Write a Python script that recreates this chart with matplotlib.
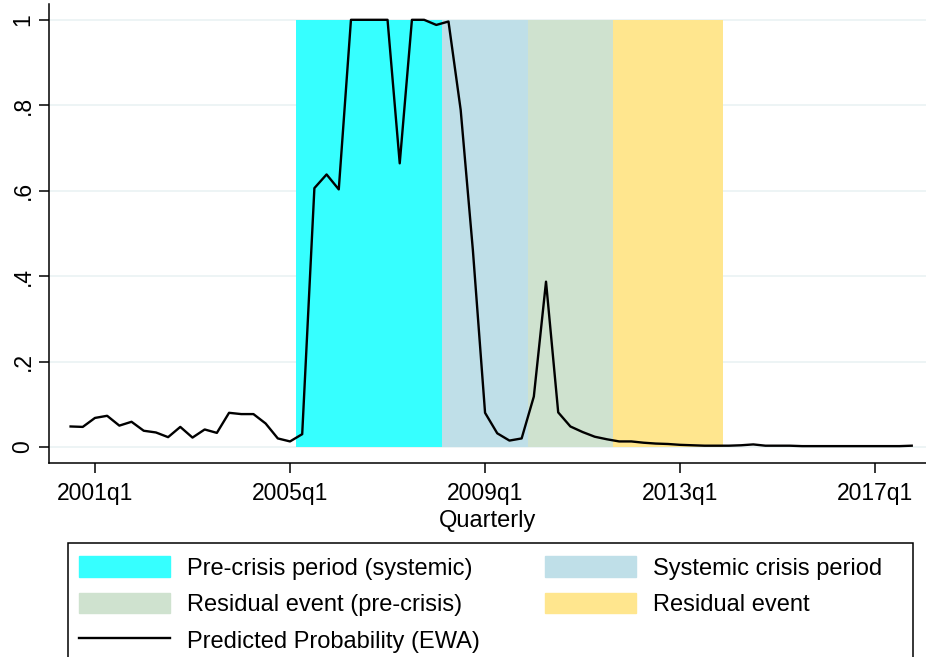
import numpy as np
import matplotlib.pyplot as plt
from matplotlib.patches import Patch, Rectangle
from matplotlib.lines import Line2D

plt.rcParams["font.family"] = ["Liberation Sans", "DejaVu Sans"]

# quarter index: 0 = 2001q1 ; series runs 2000q3 .. 2017q4
quarters = np.arange(-2, 68)
prob = [0.048, 0.047, 0.068, 0.073, 0.050, 0.059, 0.038, 0.034, 0.023, 0.047,
        0.022, 0.041, 0.033, 0.080, 0.077, 0.077, 0.055, 0.020, 0.013, 0.030,
        0.606, 0.638, 0.603, 1.000, 1.000, 1.000, 1.000, 0.664, 1.000, 1.000,
        0.988, 0.996, 0.789, 0.461, 0.080, 0.032, 0.015, 0.020, 0.118, 0.387,
        0.081, 0.048, 0.035, 0.024, 0.018, 0.013, 0.013, 0.010, 0.008, 0.007,
        0.005, 0.004, 0.003, 0.003, 0.003, 0.004, 0.006, 0.003, 0.003, 0.003,
        0.002, 0.002, 0.002, 0.002, 0.002, 0.002, 0.002, 0.002, 0.002, 0.003]

# shaded periods (first and last quarter index, inclusive)
period_labels = ["Pre-crisis period (systemic)", "Systemic crisis period",
                 "Residual event (pre-crisis)", "Residual event"]
period_start = [17, 29, 36, 43]
period_end = [28, 35, 42, 51]
period_colors = ["#36ffff", "#bfdfe8", "#cfe2cf", "#ffe68e"]

tick_pos = [0, 16, 32, 48, 64]
tick_labels = ["2001q1", "2005q1", "2009q1", "2013q1", "2017q1"]

fig = plt.figure(figsize=(9.26, 6.57), dpi=100)
ax = fig.add_axes([49 / 926, 1 - 463 / 657, 877 / 926, 459 / 657])

for s, e, c in zip(period_start, period_end, period_colors):
    q = np.arange(s, e + 1)
    ax.bar(q, np.ones(len(q)), width=1.0, color=c, linewidth=0, zorder=1)

ax.plot(quarters[:len(prob)], prob, color="black", lw=1.7, zorder=3)

ax.set_xlim(-3.77, 68.17)
ax.set_ylim(-0.0375, 1.037)
ax.set_yticks([0, 0.2, 0.4, 0.6, 0.8, 1.0])
ax.set_yticklabels(["0", ".2", ".4", ".6", ".8", "1"], rotation=90, va="center")
ax.set_xticks(tick_pos)
ax.set_xticklabels(tick_labels)
ax.grid(axis="y", color="#eaf2f3", lw=1.2, zorder=0)
ax.set_axisbelow(True)
for side in ["top", "right"]:
    ax.spines[side].set_visible(False)
ax.spines["left"].set_linewidth(1.1)
ax.spines["bottom"].set_linewidth(1.1)
ax.tick_params(labelsize=16.5, length=7, width=1.1, colors="black")
ax.tick_params(axis="x", pad=7)
ax.set_xlabel("Quarterly", fontsize=17, labelpad=3)

handles = [Patch(color=period_colors[0]), Patch(color=period_colors[2]),
           Line2D([], [], color="black", lw=1.7),
           Patch(color=period_colors[1]), Patch(color=period_colors[3])]
labels = [period_labels[0], period_labels[2], "Predicted Probability (EWA)",
          period_labels[1], period_labels[3]]
leg = fig.legend(handles, labels, loc="upper left", ncol=2,
                 bbox_to_anchor=(68 / 926, 1 - 545 / 657), fontsize=17,
                 frameon=False, handlelength=3.85, handleheight=0.98,
                 handletextpad=0.72, columnspacing=2.75, labelspacing=0.55,
                 borderpad=0.47, borderaxespad=0)

# legend box, running off the bottom of the figure like the original
fig.patches.append(Rectangle((68 / 926, -0.05), 845 / 926, 0.05 + 114 / 657,
                             transform=fig.transFigure, fill=False,
                             edgecolor="black", lw=1.1))

fig.savefig("out.png", dpi=100)
